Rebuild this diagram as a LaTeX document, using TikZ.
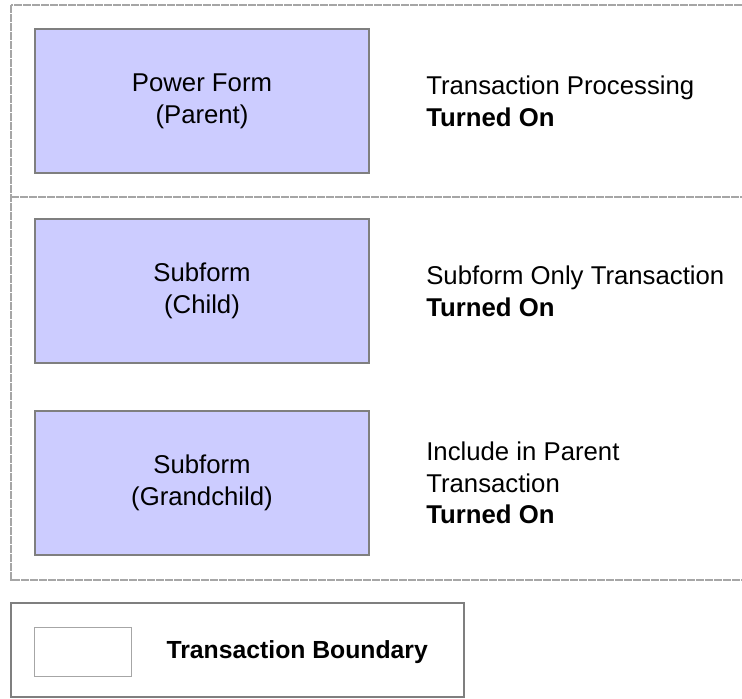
\documentclass[tikz,border=0pt]{standalone}
\usepackage{fontspec}
\setmainfont{Liberation Sans}
\usetikzlibrary{positioning}

\definecolor{formblue}{HTML}{CCCCFF}
\definecolor{edgegray}{HTML}{7F7F7F}
\newcommand{\labelfont}{\fontsize{18.3}{22.5}\selectfont}

\tikzset{
  form/.style={draw=edgegray, fill=formblue, line width=1.4pt, rectangle,
    minimum width=8.35cm, minimum height=3.6cm, align=center, font=\labelfont},
  note/.style={inner sep=0pt, align=left, font=\labelfont},
  boundary/.style={draw=gray!70, line width=1.1pt, dash pattern=on 6pt off 0.4pt},
  legendline/.style={draw=edgegray, line width=1pt}
}

\begin{document}
\begin{tikzpicture}[x=0.025cm, y=-0.025cm]
    \useasboundingbox (0,0) rectangle (742,698);
    \clip (0,0) rectangle (742,698);

    % 事务边界
    \draw[boundary] (11,5) rectangle (760,580);
    \draw[boundary] (11,197) -- (760,197);

    % 窗体
    \node[form] (parent) at (202,101) {Power Form\\(Parent)};
    \node[form] (child) at (202,291) {Subform\\(Child)};
    \node[form] (grandchild) at (202,483) {Subform\\(Grandchild)};

    % 说明
    \node[note, right=1.4cm of parent] (parentnote) {Transaction Processing\\\textbf{Turned On}};
    \node[note, right=1.4cm of child] (childnote) {Subform Only Transaction\\\textbf{Turned On}};
    \node[note, right=1.4cm of grandchild] (grandchildnote) {Include in Parent\\Transaction\\\textbf{Turned On}};

    % 图例
    \draw[legendline] (11,603) rectangle (464,697);
    \node[boundary, minimum width=2.425cm, minimum height=1.225cm] (legendbox) at (83,652) {};
    \node[note, right=0.85cm of legendbox, font=\fontsize{17.6}{21}\selectfont] (legendtext) {\textbf{Transaction Boundary}};
\end{tikzpicture}
\end{document}
